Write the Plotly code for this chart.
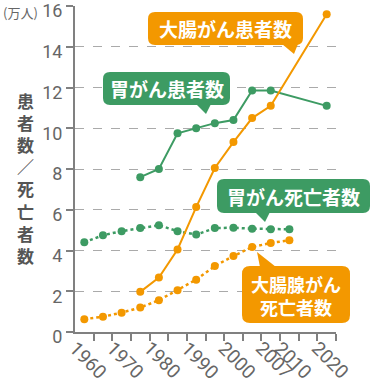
import plotly.graph_objects as go

# ---- data ----
categories = ["1960", "1965", "1970", "1975", "1980", "1985", "1990", "1995",
              "2000", "2005", "2007", "2010", "2015", "2020"]
tick_labels = ["1960", "", "1970", "", "1980", "", "1990", "", "2000", "", "2007", "2010", "", "2020"]

colorectal_cases = [None, None, None, 1.97, 2.67, 4.05, 6.13, 8.05, 9.32, 10.5, 11.1, None, None, 15.6]
gastric_cases = [None, None, None, 7.6, 8.0, 9.75, 10.0, 10.25, 10.4, 11.85, 11.85, None, None, 11.1]
gastric_deaths = [4.4, 4.75, 4.95, 5.1, 5.24, 4.95, 4.78, 5.1, 5.12, 5.07, 5.04, 5.04, None, None]
colorectal_deaths = [0.63, 0.75, 0.95, 1.2, 1.56, 2.05, 2.57, 3.24, 3.73, 4.17, 4.37, 4.5, None, None]

ORANGE = "#F39800"
GREEN = "#3D9B63"
GRAY = "#666666"

W, H = 371, 387
L, R, T, B = 75, 35, 6, 55
PW, PH = W - L - R, H - T - B

def px(x):
    return (x - L) / PW

def py(y):
    return (H - B - y) / PH

xi = list(range(len(categories)))

def series(vals):
    xs = [i for i, v in zip(xi, vals) if v is not None]
    ys = [v for v in vals if v is not None]
    return xs, ys

fig = go.Figure()
for vals, col, dash in [(gastric_deaths, GREEN, "dot"), (colorectal_deaths, ORANGE, "dot"),
                        (gastric_cases, GREEN, "solid"), (colorectal_cases, ORANGE, "solid")]:
    xs, ys = series(vals)
    fig.add_trace(go.Scatter(
        x=xs, y=ys, mode="lines+markers",
        line=dict(color=col, width=2.5 if dash == "dot" else 2, dash=dash),
        marker=dict(color=col, size=8),
        cliponaxis=False, showlegend=False, hoverinfo="skip"))

shapes = []
annotations = []

def rrect(x0, y0, x1, y1, r, color):
    pts = [
        ("M", [(x0 + r, y0)]),
        ("L", [(x1 - r, y0)]),
        ("Q", [(x1, y0), (x1, y0 + r)]),
        ("L", [(x1, y1 - r)]),
        ("Q", [(x1, y1), (x1 - r, y1)]),
        ("L", [(x0 + r, y1)]),
        ("Q", [(x0, y1), (x0, y1 - r)]),
        ("L", [(x0, y0 + r)]),
        ("Q", [(x0, y0), (x0 + r, y0)]),
    ]
    path = ""
    for cmd, ps in pts:
        path += cmd + " ".join(f"{px(a):.5f},{py(b):.5f}" for a, b in ps) + " "
    path += "Z"
    shapes.append(dict(type="path", xref="paper", yref="paper", path=path,
                       fillcolor=color, line=dict(width=0), layer="above"))

def tri(p1, p2, p3, color):
    path = "M" + " L".join(f"{px(a):.5f},{py(b):.5f}" for a, b in (p1, p2, p3)) + " Z"
    shapes.append(dict(type="path", xref="paper", yref="paper", path=path,
                       fillcolor=color, line=dict(width=0), layer="above"))

def label(text, x, y, size=19):
    annotations.append(dict(text=text, x=px(x), y=py(y), xref="paper", yref="paper",
                            showarrow=False, xanchor="center", yanchor="middle",
                            font=dict(family="Noto Sans CJK JP", size=size, color="white", weight="bold")))

# 大腸がん患者数
rrect(148, 12, 303, 45, 7, ORANGE)
tri((282, 44), (298, 44), (294, 54), ORANGE)
label("大腸がん患者数", 225.5, 28.5)
# 胃がん患者数
rrect(103, 72, 230, 105, 7, GREEN)
tri((196, 104), (211, 104), (206, 114), GREEN)
label("胃がん患者数", 166.5, 88.5)
# 胃がん死亡者数
rrect(217, 179, 370, 213, 7, GREEN)
tri((255, 212), (270, 212), (265, 222), GREEN)
label("胃がん死亡者数", 293.5, 196)
# 大腸腺がん 死亡者数
rrect(242, 266, 350, 323, 8, ORANGE)
tri((257, 252), (260, 267), (276, 267), ORANGE)
label("大腸腺がん<br>死亡者数", 296, 295, size=18)

# y-axis title, vertical
title_chars = ["患", "者", "数", "／", "死", "亡", "者", "数"]
annotations.append(dict(text="<br>".join(title_chars), x=px(25), y=py(178), xref="paper", yref="paper",
                        showarrow=False, xanchor="center", yanchor="middle",
                        font=dict(family="Noto Sans CJK JP", size=17, color="#555555", weight="bold")))
annotations.append(dict(text="(万人)", x=px(1), y=py(12), xref="paper", yref="paper",
                        showarrow=False, xanchor="left", yanchor="middle",
                        font=dict(family="Noto Sans CJK JP", size=13, color=GRAY)))

# x tick labels (rotated)
for i, t in zip(xi, tick_labels):
    if t:
        annotations.append(dict(text=t, x=i, y=py(360), xref="x", yref="paper", xshift=4,
                                showarrow=False, xanchor="center", yanchor="middle", textangle=45,
                                font=dict(family="Roboto", size=19, color=GRAY)))

fig.update_layout(
    width=W, height=H, margin=dict(l=L, r=R, t=T, b=B),
    paper_bgcolor="white", plot_bgcolor="white",
    shapes=shapes, annotations=annotations,
    xaxis=dict(range=[-0.5, 13.5], tickmode="array", tickvals=xi, ticktext=tick_labels,
               showticklabels=False, automargin=False,
               ticks="", showgrid=False, zeroline=False,
               showline=True, linecolor="#808080", linewidth=2,
               minor=dict(tickvals=[i + 0.5 for i in range(14)], ticks="outside",
                          ticklen=7, tickwidth=1.5, tickcolor="#808080", showgrid=False)),
    yaxis=dict(range=[0, 16], tickvals=list(range(0, 17, 2)), ticks="outside", ticklen=7,
               tickwidth=1.5, tickcolor="#808080", showline=True, linecolor="#808080", linewidth=2,
               showgrid=True, gridcolor="#AAAAAA", griddash="dash", gridwidth=1, zeroline=False,
               automargin=False, ticklabeloverflow="allow", ticklabelshift=5,
               tickfont=dict(family="Roboto", size=18, color=GRAY)),
)

fig.write_html("out.html", config={"displayModeBar": False},
               post_script="document.body.style.margin='0px';")
